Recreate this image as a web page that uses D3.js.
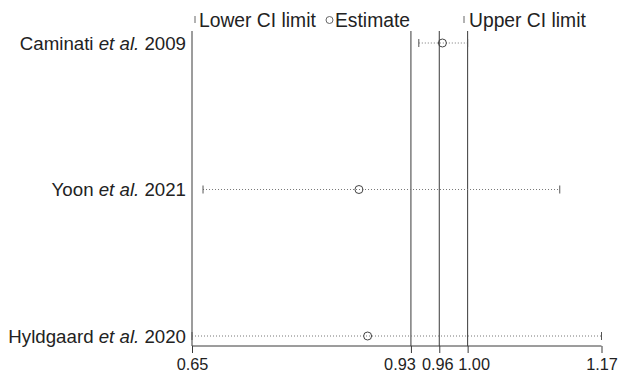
<!DOCTYPE html>
<html><head><meta charset="utf-8">
<script src="https://cdn.jsdelivr.net/npm/d3@7"></script>
<style>body{margin:0;background:#fff}svg{display:block}</style>
</head><body>
<script>
const studies = ["Caminati", "Yoon", "Hyldgaard"];
const years = ["2009", "2021", "2020"];
const lowerCI = [0.938, 0.664, 0.65];
const estimate = [0.968, 0.862, 0.873];
const upperCI = [1.00, 1.117, 1.17];
const refLines = [0.928, 0.964, 1.00];
const tickValues = [0.65, 0.928, 0.964, 1.00, 1.17];
const tickLabels = ["0.65", "0.93", "0.96", "1.00", "1.17"];
const legendItems = ["Lower CI limit", "Estimate", "Upper CI limit"];

const W = 622, H = 375;
const svg = d3.select("body").append("svg").attr("width", W).attr("height", H);
const font = "Liberation Sans, Arial, Helvetica, sans-serif";
const x = d3.scaleLinear().domain([0.65, 1.17]).range([192, 601.5]);
const y = d3.scalePoint().domain(studies).range([43, 336]);
const plotTop = 31, axisY = 346;
const ink = "#3a3a3a";

// left vertical line
svg.append("line").attr("x1", x(0.65)).attr("x2", x(0.65)).attr("y1", plotTop).attr("y2", axisY)
  .attr("stroke", ink).attr("stroke-width", 1);
// reference lines
svg.selectAll(".ref").data(refLines).join("line")
  .attr("x1", d => x(d)).attr("x2", d => x(d)).attr("y1", plotTop).attr("y2", axisY)
  .attr("stroke", ink).attr("stroke-width", 1);

// axis
const axis = d3.axisBottom(x).tickValues(tickValues)
  .tickFormat((d, i) => tickLabels[i]).tickSize(7).tickPadding(5.5);
const ag = svg.append("g").attr("transform", `translate(0,${axisY})`).call(axis);
ag.select(".domain").attr("stroke", ink).attr("d", `M${x(0.65)},0H${x(1.17)}`);
ag.selectAll(".tick line").attr("stroke", ink);
// shift crowded labels apart (label-collision offsets)
const labelShift = [0, -11.5, -2, 6, 0];
ag.selectAll(".tick text").attr("font-family", font).attr("font-size", 16.3).attr("fill", "#222")
  .attr("dx", (d, i) => labelShift[i]);

// rows
const rows = svg.selectAll(".row").data(studies).join("g");
rows.append("line")
  .attr("x1", (d, i) => x(lowerCI[i])).attr("x2", (d, i) => x(upperCI[i]))
  .attr("y1", d => y(d)).attr("y2", d => y(d))
  .attr("stroke", "#777").attr("stroke-width", 1).attr("stroke-dasharray", "1,2");
rows.append("line")
  .attr("x1", (d, i) => x(lowerCI[i])).attr("x2", (d, i) => x(lowerCI[i]))
  .attr("y1", d => y(d) - 4).attr("y2", d => y(d) + 4).attr("stroke", "#555");
rows.append("line")
  .attr("x1", (d, i) => x(upperCI[i])).attr("x2", (d, i) => x(upperCI[i]))
  .attr("y1", d => y(d) - 4).attr("y2", d => y(d) + 4).attr("stroke", "#555");
rows.append("circle")
  .attr("cx", (d, i) => x(estimate[i])).attr("cy", d => y(d)).attr("r", 4)
  .attr("fill", "none").attr("stroke", "#444").attr("stroke-width", 1);

// labels
const lab = rows.append("text").attr("x", 186).attr("y", d => y(d)).attr("dy", "0.35em")
  .attr("text-anchor", "end").attr("font-family", font).attr("font-size", 18.7).attr("fill", "#222");
lab.append("tspan").text(d => d + " ");
lab.append("tspan").attr("font-style", "italic").text("et al.");
lab.append("tspan").text((d, i) => " " + years[i]);

// legend
const ly = 20;
const lfs = 19.3;
const lg = svg.append("g");
lg.append("line").attr("x1", 195).attr("x2", 195).attr("y1", ly - 4).attr("y2", ly + 3).attr("stroke", "#666");
lg.append("text").attr("x", 199).attr("y", ly).attr("dy", "0.35em").attr("font-family", font)
  .attr("font-size", lfs).attr("fill", "#222").text(legendItems[0]);
lg.append("circle").attr("cx", 329.5).attr("cy", ly).attr("r", 3.5).attr("fill", "none").attr("stroke", "#666");
lg.append("text").attr("x", 335).attr("y", ly).attr("dy", "0.35em").attr("font-family", font)
  .attr("font-size", lfs).attr("fill", "#222").text(legendItems[1]);
lg.append("line").attr("x1", 464).attr("x2", 464).attr("y1", ly - 4).attr("y2", ly + 3).attr("stroke", "#666");
lg.append("text").attr("x", 469).attr("y", ly).attr("dy", "0.35em").attr("font-family", font)
  .attr("font-size", lfs).attr("fill", "#222").text(legendItems[2]);
</script>
</body></html>
